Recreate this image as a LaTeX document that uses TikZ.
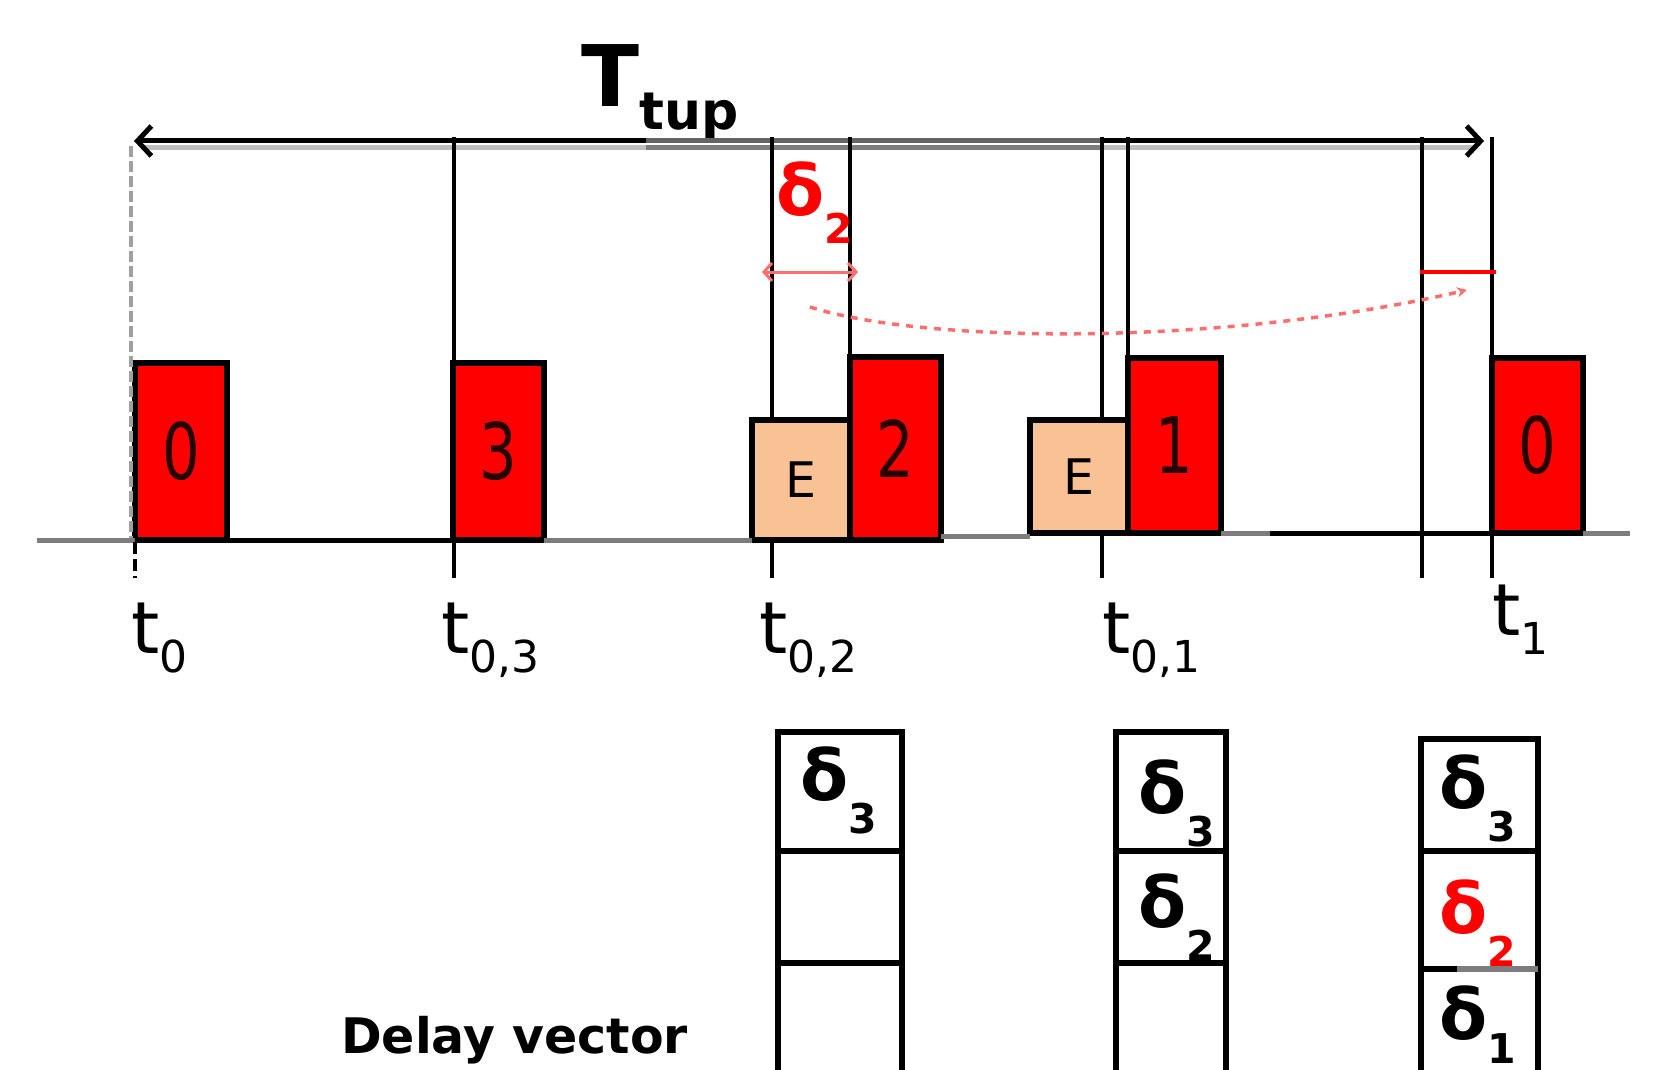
\documentclass[tikz,border=0pt]{standalone}
\usepackage{fontspec}
\setmainfont{DejaVu Sans}
\usepackage{graphicx}
\usetikzlibrary{arrows.meta}
\definecolor{peach}{RGB}{248,194,148}
\definecolor{lred}{RGB}{255,110,110}
\definecolor{dgray}{RGB}{100,100,100}
\definecolor{mgray}{RGB}{125,125,125}
\definecolor{lgray}{RGB}{160,160,160}
\definecolor{sgray}{RGB}{190,190,190}
\newcommand\dsym[3]{{\color{#1}\fontsize{70}{70}\selectfont\bfseries δ\raisebox{-#3pt}{\fontsize{41}{41}\selectfont #2}}}
\newcommand\tlab[1]{{\fontsize{72}{72}\selectfont t\raisebox{-19pt}{\fontsize{44}{44}\selectfont #1}}}
\newcommand\pdig[1]{\scalebox{0.76}[1]{#1}}
\begin{document}
\begin{tikzpicture}[x=1pt,y=-1pt,
  pulse/.style={draw=black, line width=5.5pt, fill=red, inner sep=0pt, outer sep=0pt,
    font=\fontsize{78}{78}\selectfont, text=black!85!red},
  ebox/.style={draw=black, line width=5.5pt, fill=peach, inner sep=0pt, outer sep=0pt,
    font=\fontsize{49}{49}\selectfont},
  tick/.style={line width=4pt, black},
  base/.style={line width=5pt},
  cell/.style={draw=black, line width=6pt, inner sep=0pt, outer sep=0pt},
  lab/.style={inner sep=0pt, anchor=base west}
]
\useasboundingbox (0,0) rectangle (1654,1070);
\fill[white] (0,0) rectangle (1654,1070);
\clip (0,0) rectangle (1654,1070);

% title
\node[lab] (T) at (581,107) {\fontsize{85}{85}\selectfont\bfseries T\raisebox{-23pt}{\fontsize{52}{52}\selectfont tup}};

% top arrow
\coordinate (AL) at (134,141);
\coordinate (AR) at (1484,141);
\coordinate (G1) at (646,141);
\coordinate (G2) at (1100,141);
\coordinate (S1) at (142,148);
\coordinate (S2) at (1476,148);
\coordinate (S3) at (420,148);
\draw[sgray, line width=5pt] (S1) -- (S2);
\draw[mgray, line width=5pt] (S3 -| G1) -- (S3 -| G2);
\draw[line width=5pt, {Straight Barb[length=14pt,width=30pt]}-{Straight Barb[length=14pt,width=30pt]}] (AL) -- (AR);
\draw[dgray, line width=5pt] (G1) -- (G2);

% baseline pieces
\coordinate (B0) at (37,540);
\coordinate (Bm) at (941,536);
\coordinate (Bk) at (1270,533);
\coordinate (B9) at (1630,533);

% pulses
\node[pulse, minimum width=92pt, minimum height=177pt] (p0) at (181,451.5) {\pdig{0}};
\node[pulse, minimum width=91pt, minimum height=177pt] (p3) at (498.5,451.5) {\pdig{3}};
\node[ebox, minimum width=98pt, minimum height=120pt] (e1) at (801,480) {E};
\node[pulse, minimum width=91pt, minimum height=183pt] (p2) at (895.5,448.5) {\pdig{2}};
\node[ebox, minimum width=98pt, minimum height=113pt] (e2) at (1079,476.5) {E};
\node[pulse, minimum width=93pt, minimum height=175pt] (p1) at (1174.5,445.5) {\pdig{1}};
\node[pulse, minimum width=91pt, minimum height=175pt] (q0) at (1537.5,445.5) {\pdig{0}};

\begin{scope}[on background layer/.style={}]
\end{scope}
\draw[base, mgray] (B0) -- (p0.south west);
\draw[base, black] (p0.south east) -- (p3.south west);
\draw[base, mgray] (p3.south east) -- (e1.south west);
\draw[base, mgray] (Bm) -- (Bm -| e2.west);
\draw[base, mgray] (p1.south east) -- (p1.south east -| Bk);
\draw[base, black] (Bk) -- (q0.south west);
\draw[base, mgray] (q0.south east) -- (B9);
% redraw box bottoms over the baseline
\draw[line width=5.5pt] (p2.south west) -- (p2.south east);
\draw[line width=5.5pt] (e2.south west) -- (e2.south east);

% ticks
\coordinate (k0t) at (131,146);
\coordinate (k0m) at (131,538);
\coordinate (k0a) at (135,542);
\coordinate (k0b) at (135,578);
\draw[lgray, line width=3.5pt, dash pattern=on 11pt off 4pt] (k0t) -- (k0m);
\draw[black, line width=3.5pt, dash pattern=on 12pt off 5pt] (k0a) -- (k0b);

\coordinate (k03) at (454,137);
\coordinate (k03b) at (454,578);
\draw[tick] (k03) -- (k03b);

\coordinate (k02) at (772,137);
\coordinate (k02b) at (772,578);
\draw[tick] (k02) -- (k02 |- e1.north);
\draw[tick] (k02 |- e1.south) -- (k02b);

\coordinate (k2) at (850,137);
\draw[tick] (k2) -- (k2 |- p2.north);

\coordinate (k01) at (1102,137);
\coordinate (k01b) at (1102,578);
\draw[tick] (k01) -- (k01 |- e2.north);
\draw[tick] (k01 |- e2.south) -- (k01b);

\coordinate (k1) at (1128,137);
\draw[tick] (k1) -- (k1 |- p1.north);

\coordinate (kx) at (1422,137);
\coordinate (kxb) at (1422,578);
\draw[tick] (kx) -- (kxb);

\coordinate (k1t) at (1492,137);
\coordinate (k1b) at (1492,578);
\draw[tick] (k1t) -- (k1t |- q0.north);
\draw[tick] (k1t |- q0.south) -- (k1b);

% red annotations
\node[lab] (d2) at (776,215) {\dsym{red}{2}{28}};
\coordinate (ra) at (762,272);
\coordinate (rb) at (858,272);
\draw[lred, line width=3pt, {Straight Barb[length=8pt,width=18pt]}-{Straight Barb[length=8pt,width=18pt]}] (ra) -- (rb);
\coordinate (rs1) at (1420,272);
\coordinate (rs2) at (1496,272);
\draw[red, line width=3.5pt] (rs1) -- (rs2);
\coordinate (c0) at (810,307);
\coordinate (c1) at (930,345);
\coordinate (c2) at (1230,345);
\coordinate (c3) at (1467,290);
\draw[lred, line width=3.5pt, dash pattern=on 7pt off 7pt, -{Stealth[length=10pt,width=10pt]}]
  (c0) .. controls (c1) and (c2) .. (c3);

% time labels
\node[lab] (lt0) at (131,653) {\tlab{0}};
\node[lab] (lt03) at (441,653) {\tlab{0,3}};
\node[lab] (lt02) at (759,653) {\tlab{0,2}};
\node[lab] (lt01) at (1102,653) {\tlab{0,1}};
\node[lab] (lt1) at (1492,635) {\tlab{1}};

% delay vectors
\node[cell, minimum width=124pt, minimum height=119pt] (a1) at (840,791.5) {};
\node[cell, minimum width=124pt, minimum height=112pt] (a2) at (840,907) {};
\node[cell, minimum width=124pt, minimum height=137pt] (a3) at (840,1031.5) {};
\node[cell, minimum width=110pt, minimum height=119pt] (b1) at (1171,791.5) {};
\node[cell, minimum width=110pt, minimum height=112pt] (b2) at (1171,907) {};
\node[cell, minimum width=110pt, minimum height=137pt] (b3) at (1171,1031.5) {};
\node[cell, minimum width=117pt, minimum height=112pt] (x1) at (1479.5,795) {};
\node[cell, minimum width=117pt, minimum height=118pt] (x2) at (1479.5,910) {};
\node[cell, minimum width=117pt, minimum height=131pt] (x3) at (1479.5,1034.5) {};
\coordinate (gs1) at (1457,969);
\draw[mgray, line width=6pt] (gs1) -- (gs1 -| x2.east);

\node[lab] (da13) at (800,800) {\dsym{black}{3}{33}};
\node[lab] (db13) at (1138,813) {\dsym{black}{3}{33}};
\node[lab] (db22) at (1138,927) {\dsym{black}{2}{33}};
\node[lab] (dc13) at (1439,808) {\dsym{black}{3}{33}};
\node[lab] (dc22) at (1439,933) {\dsym{red}{2}{33}};
\node[lab] (dc31) at (1439,1039) {\dsym{black}{1}{24}};

\node[lab] (dv) at (341,1053) {\fontsize{49}{49}\selectfont\bfseries Delay vector};
\end{tikzpicture}
\end{document}
